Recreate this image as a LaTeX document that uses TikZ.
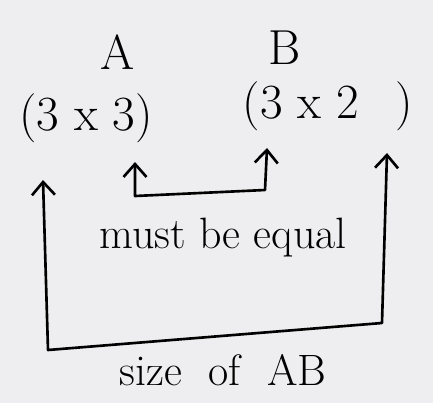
\documentclass[tikz,border=0pt]{standalone}
\usetikzlibrary{arrows.meta}
\definecolor{paper}{RGB}{238,238,240}
\tikzset{
  big/.style={font=\fontsize{28}{30}\selectfont,inner sep=0pt},
  lbl/.style={font=\fontsize{25}{27}\selectfont,inner sep=0pt}
  ,pen/.style={line width=1.5pt,line join=round,line cap=round}
}
\begin{document}
\begin{tikzpicture}[>={Straight Barb[length=2.6mm,width=4.6mm]},x=0.02cm,y=-0.02cm]
\fill[paper] (0,0) rectangle (433,403);
\node[big] (nA) at (118,52){A};
\node[big] (nB) at (285,48){B};
\node[big] (dimA) at (86,118){(3 x 3)};
\node[big] (dimB) at (328,106){(3 x 2\;\, )};
\node[lbl] (eq) at (223,238){must be equal};
\node[lbl] (sz) at (223,370){size\ \ of\ \ AB};
% inner bracket
\coordinate (ia) at (135,162);
\coordinate (ib) at (267,148);
\draw[pen,<->] (ia)--(135,196)--(265,190)--(ib);
% outer bracket
\coordinate (oa) at (43,180);
\coordinate (ob) at (387,153);
\draw[pen,<->] (oa)--(48,350)--(382,323)--(ob);
\end{tikzpicture}
\end{document}
